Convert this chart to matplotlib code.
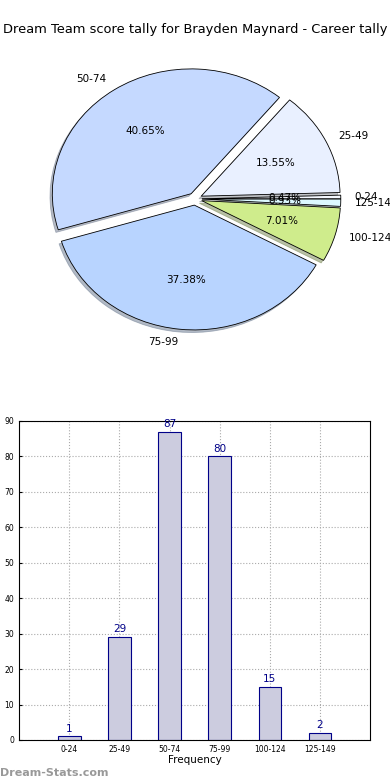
import numpy as np
import matplotlib
matplotlib.use('Agg')
import matplotlib.pyplot as plt

# score ranges and how often each one happened
ranges = ['0-24', '25-49', '50-74', '75-99', '100-124', '125-149']
counts = [1, 29, 87, 80, 15, 2]
pie_colors = ['#f4f8ff', '#e9f0ff', '#c5d9ff', '#b8d4ff', '#cfec8c', '#dcf8ff']
title = 'Dream Team score tally for Brayden Maynard - Career tally'

fig = plt.figure(figsize=(3.9, 7.8), dpi=100)

# pie on top (not forced to be round, like the original)
ax1 = fig.add_axes([0.055, 0.545, 0.89, 0.40])
wedges, texts, autotexts = ax1.pie(counts, labels=ranges, colors=pie_colors,
                                   explode=[0.05] * len(counts), autopct='%.2f%%',
                                   shadow={'ox': -0.012, 'oy': -0.015, 'shade': 0.45},
                                   startangle=0, counterclock=True,
                                   wedgeprops={'edgecolor': 'black', 'linewidth': 0.6},
                                   textprops={'fontsize': 7.5})
ax1.set_aspect('auto')
ax1.set_xlim(-1.25, 1.25)
ax1.set_ylim(-1.25, 1.25)
fig.text(0.5, 1 - 30 / 780.0, title, ha='center', va='center', fontsize=9.4)

# frequency bars underneath
ax2 = fig.add_axes([0.049, 0.0513, 0.9, 0.409])
x = np.arange(len(ranges))
ax2.bar(x, counts, width=0.45, color='#ccccdf', edgecolor='#000088', linewidth=0.8, zorder=2)
for xi, c in zip(x, counts):
    ax2.text(xi, c + 0.8, str(c), ha='center', va='bottom', color='#000088', fontsize=7.5)
ax2.set_xlim(-1, 6)
ax2.set_ylim(0, 90)
ax2.set_xticks(x)
ax2.set_xticklabels(ranges)
ax2.set_yticks(np.arange(0, 91, 10))
ax2.tick_params(labelsize=5.5, length=2, direction='in')
ax2.grid(True, linestyle=':', color='#aaaaaa', linewidth=0.8, zorder=0)
ax2.set_xlabel('Frequency', fontsize=7.5, labelpad=1)

fig.text(0.0, 0.003, 'Dream-Stats.com', color='#999999', fontsize=8, fontweight='bold',
         ha='left', va='bottom')

fig.savefig('out.png', dpi=100)
